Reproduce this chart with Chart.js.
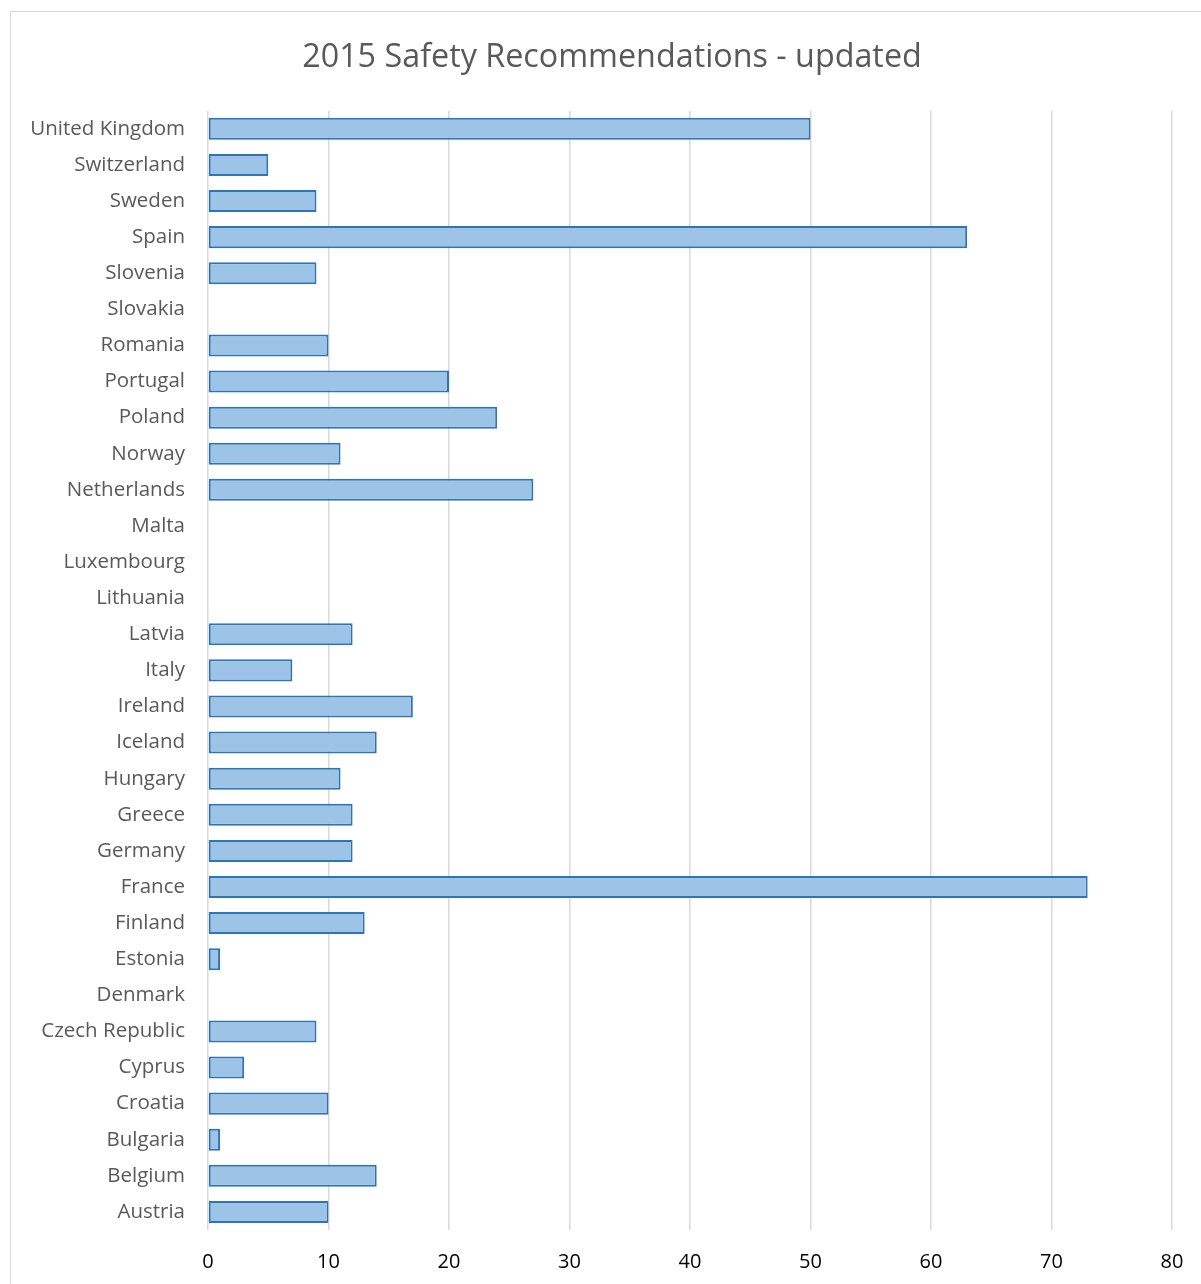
<!DOCTYPE html>
<html>
<head>
<meta charset="utf-8">
<script src="https://cdn.jsdelivr.net/npm/chart.js@4.4.0/dist/chart.umd.min.js"></script>
<style>
    html, body { margin: 0; padding: 0; background: #fff; overflow: hidden; }
    #wrap { position: relative; width: 1201px; height: 1284px; }
    #frame {
        position: absolute; left: 10px; top: 11px; width: 1210px; height: 1300px;
        border: 1px solid #d9d9d9; box-sizing: border-box; pointer-events: none;
    }
</style>
</head>
<body>
<div id="wrap">
    <canvas id="safetyChart" width="1201" height="1284"></canvas>
    <div id="frame"></div>
</div>
<script>
    // countries listed top to bottom as they appear on the axis
    const countries = [
        'United Kingdom', 'Switzerland', 'Sweden', 'Spain', 'Slovenia', 'Slovakia',
        'Romania', 'Portugal', 'Poland', 'Norway', 'Netherlands', 'Malta',
        'Luxembourg', 'Lithuania', 'Latvia', 'Italy', 'Ireland', 'Iceland',
        'Hungary', 'Greece', 'Germany', 'France', 'Finland', 'Estonia',
        'Denmark', 'Czech Republic', 'Cyprus', 'Croatia', 'Bulgaria', 'Belgium', 'Austria'
    ];

    const recommendations = [
        50, 5, 9, 63, 9, 0,
        10, 20, 24, 11, 27, 0,
        0, 0, 12, 7, 17, 14,
        11, 12, 12, 73, 13, 1,
        0, 9, 3, 10, 1, 14, 10
    ];

    const xTicks = [0, 10, 20, 30, 40, 50, 60, 70, 80];

    const fontFamily = "'Open Sans', 'Noto Sans', sans-serif";

    const ctx = document.getElementById('safetyChart').getContext('2d');

    new Chart(ctx, {
        type: 'bar',
        data: {
            labels: countries,
            datasets: [{
                label: 'Recommendations',
                data: recommendations,
                backgroundColor: '#9dc3e6',
                borderColor: '#2e75b6',
                borderWidth: 2,
                borderSkipped: false,
                barPercentage: 0.61,
                categoryPercentage: 1
            }]
        },
        options: {
            indexAxis: 'y',
            responsive: false,
            animation: false,
            layout: {
                // left padding keeps the title centred over the framed area
                padding: { left: 23, right: 0, top: 0, bottom: 0 }
            },
            plugins: {
                legend: { display: false },
                tooltip: { enabled: false },
                title: {
                    display: true,
                    text: '2015 Safety Recommendations - updated',
                    color: '#595959',
                    font: { family: fontFamily, size: 32.3, weight: 'normal' },
                    padding: { top: 38, bottom: 34 }
                }
            },
            scales: {
                x: {
                    min: 0,
                    max: 80,
                    afterBuildTicks: scale => {
                        scale.ticks = xTicks.map(v => ({ value: v }));
                    },
                    afterFit: scale => {
                        scale.height = 54;
                    },
                    border: { display: false },
                    grid: {
                        color: '#d9d9d9',
                        lineWidth: 1.5,
                        drawTicks: true,
                        tickLength: 15,
                        tickColor: 'rgba(0,0,0,0)'
                    },
                    ticks: {
                        color: '#000',
                        padding: 5,
                        font: { family: fontFamily, size: 20 }
                    }
                },
                y: {
                    afterFit: scale => {
                        scale.width = 185;
                    },
                    border: { display: false },
                    grid: { display: false, drawTicks: false },
                    ticks: {
                        color: '#595959',
                        padding: 23,
                        autoSkip: false,
                        font: { family: fontFamily, size: 20.5 }
                    }
                },
                // empty right-hand axis that holds the margin beside the plot
                yRight: {
                    type: 'category',
                    position: 'right',
                    afterFit: scale => {
                        scale.width = 29;
                    },
                    border: { display: false },
                    grid: { display: false, drawTicks: false },
                    ticks: { display: false }
                }
            }
        }
    });
</script>
</body>
</html>
